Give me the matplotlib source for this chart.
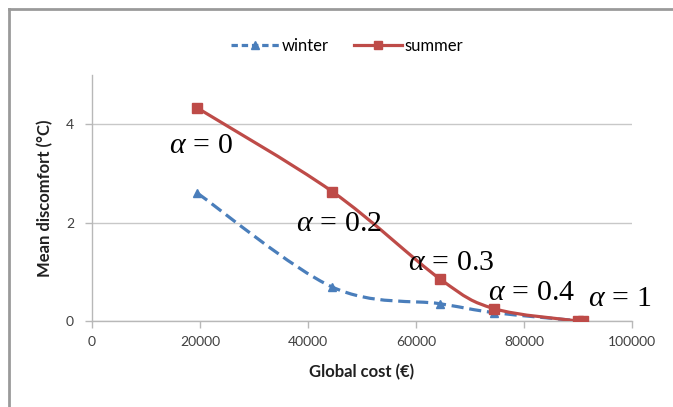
import numpy as np
import matplotlib
matplotlib.use("Agg")
import matplotlib.pyplot as plt
from matplotlib.path import Path
from matplotlib.patches import PathPatch
from matplotlib.lines import Line2D

cost_winter = [19500, 44500, 64500, 74500, 90500]
winter = [2.6, 0.69, 0.35, 0.17, 0.0]
cost_summer = [19500, 44500, 64500, 74500, 90000, 91000]
summer = [4.33, 2.63, 0.85, 0.25, 0.0, 0.0]
alpha_labels = [r"$\alpha\,=\,0$", r"$\alpha\,=\,0.2$", r"$\alpha\,=\,0.3$", r"$\alpha\,=\,0.4$", r"$\alpha\,=\,1$"]
alpha_x = [20200, 45800, 66500, 81500, 97800]
alpha_y = [3.58, 2.0, 1.2, 0.6, 0.47]
xticks = [0, 20000, 40000, 60000, 80000, 100000]
yticks = [0, 2, 4]

plt.rcParams['mathtext.fontset'] = 'custom'
plt.rcParams['mathtext.rm'] = 'Liberation Serif'
plt.rcParams['mathtext.it'] = 'Liberation Serif:italic'

fig = plt.figure(figsize=(6.73, 4.07), dpi=100)
ax = fig.add_axes([92/673, 1-321/407, 540/673, 246/407])

def smooth_path(ax, xs, ys):
    # Catmull-Rom -> cubic Bezier drawn in display space
    pts = ax.transData.transform(np.column_stack([xs, ys]))
    verts = [pts[0]]
    codes = [Path.MOVETO]
    n = len(pts)
    for i in range(n - 1):
        p0 = pts[i - 1] if i > 0 else pts[i]
        p1 = pts[i]
        p2 = pts[i + 1]
        p3 = pts[i + 2] if i + 2 < n else pts[i + 1]
        c1 = p1 + (p2 - p0) / 6.0
        c2 = p2 - (p3 - p1) / 6.0
        verts += [c1, c2, p2]
        codes += [Path.CURVE4] * 3
    return Path(np.array(verts), codes)

ax.set_xlim(0, 100000)
ax.set_ylim(0, 5)

blue = '#4a7ebb'
red = '#be4b48'

fig.canvas.draw()
pw = smooth_path(ax, cost_winter, winter)
ps = smooth_path(ax, cost_summer, summer)
ax.add_patch(PathPatch(pw, transform=None, fill=False, edgecolor=blue, lw=2.3,
                       linestyle=(0, (3.8, 1.8)), zorder=3))
ax.add_patch(PathPatch(ps, transform=None, fill=False, edgecolor=red, lw=2.3, zorder=4))
ax.plot(cost_winter, winter, ls='none', marker='^', ms=6, color=blue, zorder=5)
ax.plot(cost_summer, summer, ls='none', marker='s', ms=6.5, color=red, zorder=6)

for lab, x, y in zip(alpha_labels, alpha_x, alpha_y):
    ax.text(x, y, lab, fontsize=21.5, ha='center', va='center', color='black', zorder=7)

tfont = dict(family='Lato', size=10)
ax.set_xticks(xticks)
ax.set_xticklabels([str(t) for t in xticks], color='#404040', **tfont)
ax.set_yticks(yticks)
ax.set_yticklabels([str(t) for t in yticks], color='#404040', **tfont)
ax.grid(axis='y', color='#c8c8c8', lw=1)
ax.set_axisbelow(True)
for s in ['top', 'right']:
    ax.spines[s].set_visible(False)
for s in ['left', 'bottom']:
    ax.spines[s].set_color('#b8b8b8')
    ax.spines[s].set_linewidth(1)
ax.tick_params(axis='both', color='#b8b8b8', length=5, width=1)
ax.tick_params(axis='x', pad=6)
ax.tick_params(axis='y', pad=8)
ax.set_xlabel('Global cost (€)', fontsize=12, fontweight='bold', family='Lato', color='#202020', labelpad=11)
ax.set_ylabel('Mean discomfort (°C)', fontsize=12, fontweight='bold', family='Lato', color='#202020', labelpad=9)

handles = [Line2D([], [], color=blue, lw=2.3, ls=(0, (2, 1.2)), marker='^', ms=6),
           Line2D([], [], color=red, lw=2.3, marker='s', ms=6)]
fig.legend(handles, ['winter', 'summer'], loc='center', bbox_to_anchor=(347/673, 1-46/407),
           ncol=2, frameon=False, prop={'family': 'Lato', 'size': 12},
           handlelength=2.9, columnspacing=1.5, handletextpad=0.15)

# outer frame
fig.add_artist(Line2D([9/673, 9/673], [0, 1-9/407], transform=fig.transFigure, color='#9a9a9a', lw=2))
fig.add_artist(Line2D([9/673, 1], [1-9/407, 1-9/407], transform=fig.transFigure, color='#9a9a9a', lw=2))

fig.savefig('out.png', dpi=100)
